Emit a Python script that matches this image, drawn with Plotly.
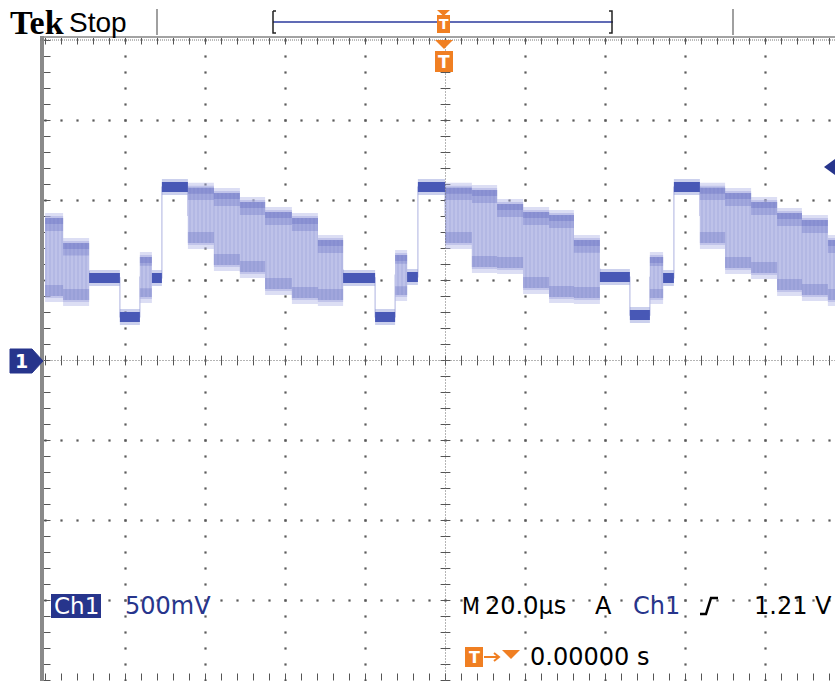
import numpy as np
import plotly.graph_objects as go

W, H = 835, 681

# ---------------- waveform data read from the screen capture ----------------
# time in µs relative to trigger (20 µs/div), Ch1 in volts (500 mV/div, ground at centre)
seg_edges_us = [-100.1, -95.6, -89.1, -81.4, -76.4, -73.4, -70.9, -64.4, -57.9, -51.4,
                -45.1, -38.4, -31.9, -25.6, -17.6, -12.6, -9.6, -6.9, -0.1, 6.6,
                12.9, 19.4, 25.9, 32.1, 38.6, 46.1, 51.1, 54.4, 57.1, 63.6,
                69.9, 76.4, 82.9, 89.1, 95.6, 98.6]
# upper / lower envelope of each segment (equal values = clean flat level)
seg_hi_v = [0.891, 0.734, 0.516, 0.272, 0.647, 0.516, 1.084, 1.080, 1.047, 0.991,
            0.928, 0.891, 0.753, 0.516, 0.272, 0.659, 0.522, 1.084, 1.080, 1.066,
            0.978, 0.928, 0.909, 0.753, 0.522, 0.284, 0.647, 0.516, 1.084, 1.080,
            1.047, 0.991, 0.922, 0.878, 0.753]
seg_lo_v = [0.403, 0.378, 0.516, 0.272, 0.397, 0.516, 1.084, 0.734, 0.597, 0.553,
            0.447, 0.391, 0.378, 0.516, 0.272, 0.409, 0.522, 1.084, 0.734, 0.584,
            0.578, 0.453, 0.397, 0.391, 0.522, 0.284, 0.391, 0.516, 1.084, 0.734,
            0.578, 0.547, 0.441, 0.409, 0.378]

time_div_us = 20.0
volt_div_v = 0.5
n_hdiv, n_vdiv = 10, 8

# ---------------- text ----------------
brand = "Tek"
state = "Stop"
ch_name = "Ch1"
ch_scale = "500mV"
tb_prefix = "M"
timebase = "20.0µs"
trig_mode = "A"
trig_src = "Ch1"
trig_level = "1.21 V"
trig_pos = "0.00000 s"

# ---------------- geometry ----------------
CX, CY = 445.5, 360.5
PX_PER_US = 80 / time_div_us
PX_PER_V = 80 / volt_div_v
x_range = [(0 - CX) / PX_PER_US, (W - CX) / PX_PER_US]
y_range = [(CY - H) / PX_PER_V, (CY - 0) / PX_PER_V]


def dv(px):
    return px / PX_PER_V


def pv(py):
    return (CY - py) / PX_PER_V


def pt(px):
    return (px - CX) / PX_PER_US


def X(px):
    return px / W


def Y(py):
    return 1 - py / H


BLUE = "#27358c"
ORANGE = "#f07f22"
GRID = "#5a5a5a"

fig = go.Figure()

# ---------------- graticule ----------------
t_left = -n_hdiv / 2 * time_div_us
v_bot = -n_vdiv / 2 * volt_div_v
major_t = [t_left + k * time_div_us for k in range(n_hdiv + 1)]
major_v = [v_bot + k * volt_div_v for k in range(n_vdiv + 1)]
minor_t = np.arange(t_left, x_range[1], time_div_us / 5)
minor_v = np.arange(v_bot, -v_bot + 1e-6, volt_div_v / 5)

gx, gy = [], []
for v in major_v[1:-1]:
    if abs(v) < 1e-9:
        continue
    gx += list(minor_t)
    gy += [v] * len(minor_t)
for t in major_t[1:]:
    if abs(t) < 1e-9:
        continue
    gx += [t] * len(minor_v)
    gy += list(minor_v)
fig.add_trace(go.Scatter(x=gx, y=gy, mode="markers", hoverinfo="skip",
                         marker=dict(symbol="square", size=2.2, color=GRID, line=dict(width=0))))

# centre lines (dense dots) + ticks
fig.add_shape(type="line", x0=t_left, x1=x_range[1], y0=0, y1=0, xref="x", yref="y",
              line=dict(color="#6a6a6a", width=1, dash="1px,2px"))
fig.add_shape(type="line", x0=0, x1=0, y0=v_bot, y1=-v_bot, xref="x", yref="y",
              line=dict(color="#6a6a6a", width=1, dash="1px,2px"))
fig.add_trace(go.Scatter(x=list(minor_t), y=[0] * len(minor_t), mode="markers", hoverinfo="skip",
                         marker=dict(symbol="line-ns", size=7, line=dict(width=1, color="#555"))))
fig.add_trace(go.Scatter(x=[0] * len(minor_v), y=list(minor_v), mode="markers", hoverinfo="skip",
                         marker=dict(symbol="line-ew", size=7, line=dict(width=1, color="#555"))))

# border ticks (top, bottom, left)
fig.add_trace(go.Scatter(x=list(minor_t), y=[pv(41)] * len(minor_t), mode="markers", hoverinfo="skip",
                         marker=dict(symbol="line-ns", size=5, line=dict(width=1, color="#555"))))
fig.add_trace(go.Scatter(x=list(minor_t), y=[pv(677)] * len(minor_t), mode="markers", hoverinfo="skip",
                         marker=dict(symbol="line-ns", size=5, line=dict(width=1, color="#555"))))
fig.add_trace(go.Scatter(x=[pt(47)] * len(minor_v), y=list(minor_v), mode="markers", hoverinfo="skip",
                         marker=dict(symbol="line-ew", size=5, line=dict(width=1, color="#555"))))
fig.add_shape(type="line", x0=X(40), x1=X(W), y0=Y(37), y1=Y(37), xref="paper", yref="paper",
              line=dict(color="#a3a3a3", width=2))
fig.add_shape(type="line", x0=X(42), x1=X(42), y0=Y(36), y1=Y(H), xref="paper", yref="paper",
              line=dict(color="#8a8a8a", width=4))
fig.add_shape(type="line", x0=X(40), x1=X(W), y0=Y(40), y1=Y(40), xref="paper", yref="paper",
              line=dict(color="#777", width=1, dash="1px,1px"))

# ---------------- waveform ----------------
mids = [(h + l) / 2 for h, l in zip(seg_hi_v, seg_lo_v)]
fig.add_trace(go.Scatter(x=seg_edges_us, y=mids + [mids[-1]], mode="lines", line_shape="hv",
                         hoverinfo="skip", line=dict(color="rgba(120,128,205,0.5)", width=1.2)))


def polys(kind, part, a_px=0, b_px=0):
    xs, ys = [], []
    for i in range(len(seg_hi_v)):
        hi, lo = seg_hi_v[i], seg_lo_v[i]
        is_flat = abs(hi - lo) < 1e-9
        if (kind == "flat") != is_flat:
            continue
        t0, t1 = seg_edges_us[i], seg_edges_us[i + 1]
        strip = min(dv(b_px), 0.22 * (hi - lo)) if not is_flat else 0
        if part == "top":
            a, b = hi, hi - strip
        elif part == "bot":
            a, b = lo + strip, lo
        else:
            a, b = hi + dv(a_px), lo - dv(b_px)
        xs += [t0, t1, t1, t0, t0, None]
        ys += [a, a, b, b, a, None]
    return xs, ys


def add_fill(xs, ys, color, pattern=None):
    kw = {}
    if pattern:
        kw["fillpattern"] = pattern
    fig.add_trace(go.Scatter(x=xs, y=ys, mode="lines", fill="toself", fillcolor=color,
                             line=dict(width=0, color=color), hoverinfo="skip", **kw))


add_fill(*polys("band", "all", 5, 6), "rgba(178,182,230,0.45)")
add_fill(*polys("band", "all", 2, 2), "rgba(165,170,224,0.5)")
add_fill(*polys("band", "all"), "#b8bce6",
         pattern=dict(shape="|", size=4, solidity=0.3, fgcolor="rgba(145,152,214,0.85)", bgcolor="#bec2e9"))
add_fill(*polys("band", "top", 0, 13), "rgba(100,110,194,0.3)")
add_fill(*polys("band", "top", 0, 6), "rgba(90,100,190,0.3)")
add_fill(*polys("band", "bot", 0, 11), "rgba(100,110,194,0.32)")
add_fill(*polys("flat", "all", 8, 8), "rgba(140,150,216,0.45)")
add_fill(*polys("flat", "all", 5, 5), "#4858b6")

# ---------------- header ----------------
fig.add_annotation(x=X(9), y=Y(22), xref="paper", yref="paper", xanchor="left", yanchor="middle",
                   text=f"<b>{brand}</b>", showarrow=False, borderpad=0,
                   font=dict(family="Liberation Serif", size=34, color="black"))
fig.add_annotation(x=X(68), y=Y(22), xref="paper", yref="paper", xanchor="left", yanchor="middle",
                   text=state, showarrow=False, borderpad=0,
                   font=dict(family="Liberation Sans", size=28, color="black"))
for sx in (157, 733):
    fig.add_shape(type="line", x0=X(sx), x1=X(sx), y0=Y(9), y1=Y(35), xref="paper", yref="paper",
                  line=dict(color="#808080", width=1.5))
# record bar
fig.add_shape(type="line", x0=X(273), x1=X(613), y0=Y(22), y1=Y(22), xref="paper", yref="paper",
              line=dict(color="#2b3a9c", width=1.5))
for path in ("M {a} {b} L {c} {b} M {a} {b} L {a} {d} L {c} {d}",
             "M {e} {b} L {f} {b} L {f} {d} L {e} {d}"):
    fig.add_shape(type="path", xref="paper", yref="paper",
                  path=path.format(a=X(273), b=Y(11), c=X(276), d=Y(33), e=X(609), f=X(612)),
                  line=dict(color="#222", width=1.5))


def tbox(x0, x1, y0, y1, size):
    fig.add_shape(type="rect", xref="paper", yref="paper", x0=X(x0), x1=X(x1), y0=Y(y0), y1=Y(y1),
                  fillcolor=ORANGE, line=dict(width=0))
    fig.add_annotation(x=X((x0 + x1) / 2), y=Y((y0 + y1) / 2), xref="paper", yref="paper",
                       xanchor="center", yanchor="middle", text="<b>T</b>", showarrow=False, borderpad=0,
                       font=dict(family="DejaVu Sans", size=size, color="white"))


# trigger position markers (orange T)
fig.add_shape(type="path", xref="paper", yref="paper",
              path=f"M {X(437)} {Y(10)} L {X(450)} {Y(10)} L {X(443.5)} {Y(16)} Z",
              fillcolor=ORANGE, line=dict(width=0))
tbox(437, 450, 15, 33, 14)
fig.add_shape(type="path", xref="paper", yref="paper",
              path=f"M {X(435)} {Y(40)} L {X(453)} {Y(40)} L {X(444)} {Y(49)} Z",
              fillcolor=ORANGE, line=dict(width=0))
tbox(435, 453, 51, 72, 17)

# channel ground marker and trigger level marker
fig.add_shape(type="path", xref="paper", yref="paper",
              path=f"M {X(10)} {Y(349)} L {X(32)} {Y(349)} L {X(43)} {Y(361)} L {X(32)} {Y(373)} L {X(10)} {Y(373)} Z",
              fillcolor=BLUE, line=dict(color=BLUE, width=1))
fig.add_annotation(x=X(21), y=Y(361), xref="paper", yref="paper", xanchor="center", yanchor="middle",
                   text="<b>1</b>", showarrow=False, borderpad=0,
                   font=dict(family="DejaVu Sans", size=19, color="white"))
fig.add_shape(type="path", xref="paper", yref="paper",
              path=f"M {X(824)} {Y(167)} L {X(835)} {Y(159)} L {X(835)} {Y(175)} Z",
              fillcolor=BLUE, line=dict(width=0))

# ---------------- readouts ----------------
TF = "DejaVu Sans"
fig.add_shape(type="rect", xref="paper", yref="paper", x0=X(51), x1=X(101), y0=Y(594), y1=Y(618),
              fillcolor=BLUE, line=dict(width=0))
fig.add_annotation(x=X(76), y=Y(606), xref="paper", yref="paper", xanchor="center", yanchor="middle",
                   text=ch_name, showarrow=False, borderpad=0,
                   font=dict(family=TF, size=23, color="white"))


def label(px, py, text, color="black", anchor="left", size=24, family=TF):
    fig.add_annotation(x=X(px), y=Y(py), xref="paper", yref="paper", xanchor=anchor, yanchor="middle",
                       text=text, showarrow=False, borderpad=0, font=dict(family=family, size=size, color=color))


label(124, 606, ch_scale, BLUE)
label(461, 606, tb_prefix, size=23, family="DejaVu Sans Condensed, Liberation Sans Narrow, Liberation Sans")
label(484, 606, timebase)
label(594, 606, trig_mode)
label(632, 606, trig_src, BLUE)
label(833, 606, trig_level, anchor="right")
label(529, 657, trig_pos)
# rising-edge slope glyph
fig.add_shape(type="path", xref="paper", yref="paper",
              path=f"M {X(700)} {Y(614)} L {X(706)} {Y(614)} L {X(711)} {Y(598)} L {X(718)} {Y(598)}",
              line=dict(color="black", width=2.5))
# trigger position readout icon
tbox(465, 483, 647, 667, 16)
fig.add_shape(type="line", xref="paper", yref="paper", x0=X(484), x1=X(498), y0=Y(657), y1=Y(657),
              line=dict(color=ORANGE, width=2))
fig.add_shape(type="path", xref="paper", yref="paper",
              path=f"M {X(494)} {Y(653)} L {X(499)} {Y(657)} L {X(494)} {Y(661)}",
              line=dict(color=ORANGE, width=2))
fig.add_shape(type="path", xref="paper", yref="paper",
              path=f"M {X(502)} {Y(650)} L {X(520)} {Y(650)} L {X(511)} {Y(659)} Z",
              fillcolor=ORANGE, line=dict(width=0))

fig.update_layout(
    width=W, height=H, autosize=False,
    margin=dict(l=0, r=0, t=0, b=0, pad=0),
    paper_bgcolor="white", plot_bgcolor="white",
    showlegend=False,
    xaxis=dict(range=x_range, visible=False, fixedrange=True),
    yaxis=dict(range=y_range, visible=False, fixedrange=True),
)
fig.write_html("out.html", config={"displayModeBar": False},
               post_script="document.body.style.margin='0';document.body.style.overflow='hidden';")
